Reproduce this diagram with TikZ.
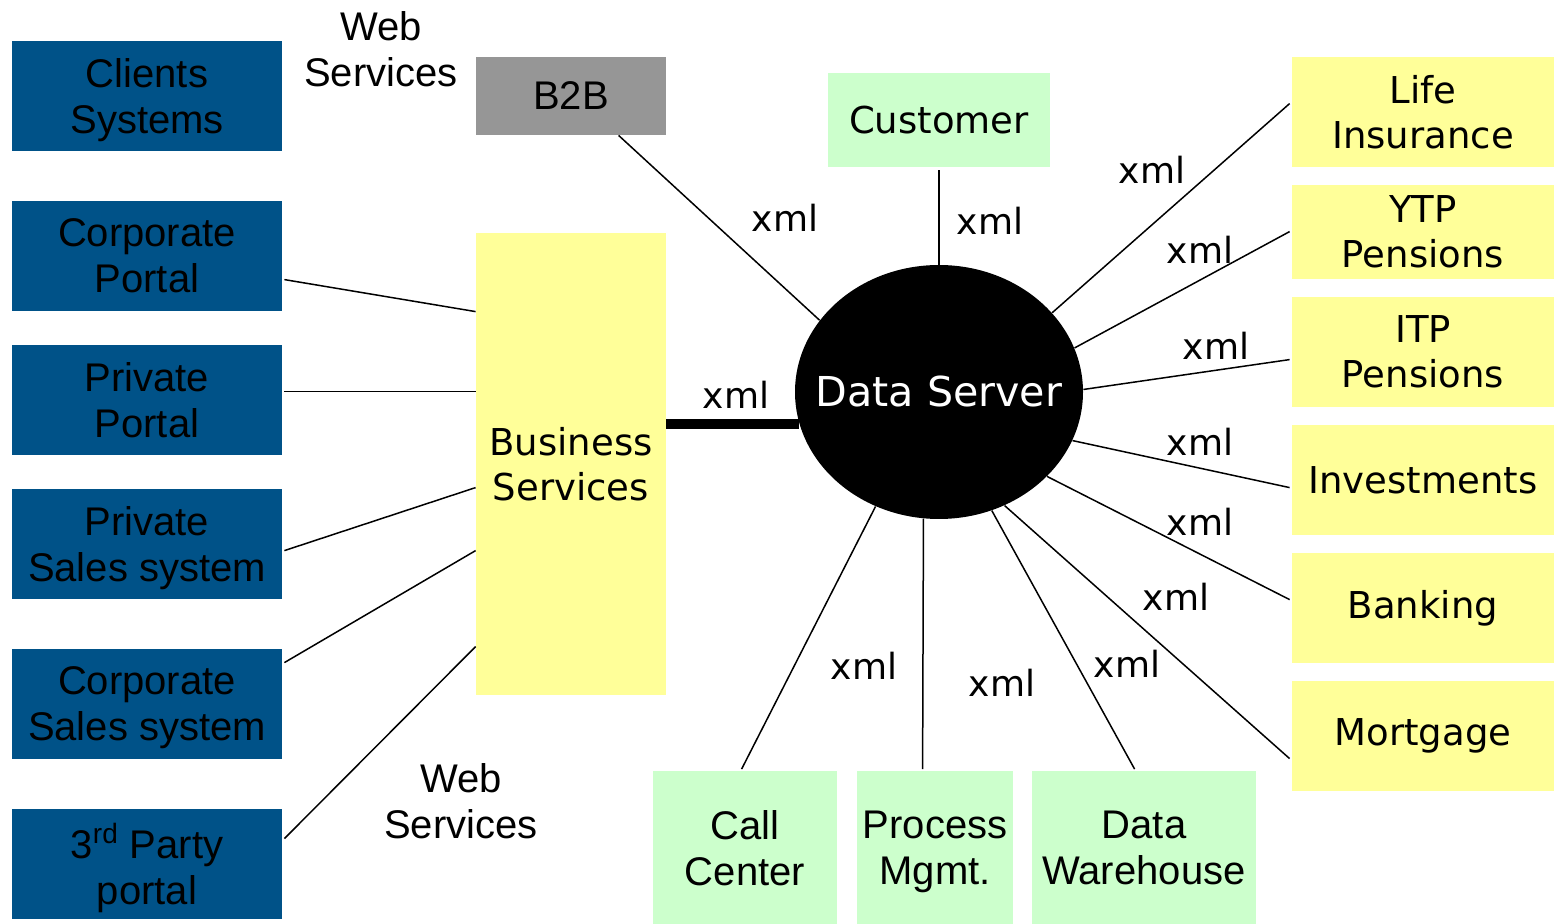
\documentclass[tikz,border=0pt]{standalone}
\usepackage{fontspec}
\setmainfont{DejaVu Sans}
\newfontfamily\narrowf{Liberation Sans}
\usetikzlibrary{shapes.geometric,calc}
\definecolor{boxblue}{HTML}{005288}
\definecolor{boxyellow}{HTML}{FFFF99}
\definecolor{boxgreen}{HTML}{CCFFCC}
\definecolor{boxgray}{HTML}{969696}
\begin{document}
\begin{tikzpicture}[x=0.5pt,y=-0.5pt,
  base/.style={inner sep=0pt, align=center},
  nfont/.style={font=\narrowf\fontsize{20}{23}\selectfont, text depth=0pt},
  vfont/.style={font=\fontsize{18.5}{22.5}\selectfont},
  bluebox/.style={base, nfont, fill=boxblue, minimum width=135pt, minimum height=55pt},
  ybox/.style={base, vfont, fill=boxyellow, minimum width=131pt},
  gbox/.style={base, nfont, fill=boxgreen, minimum height=76.5pt},
  lbl/.style={base, font=\fontsize{18}{22}\selectfont},
  ntxt/.style={base, nfont},
  conn/.style={draw=black, line width=0.75pt},
]
\useasboundingbox (0,0) rectangle (1554,924);
% left blue boxes
\node[bluebox] (cs) at (147,96) {Clients\\Systems};
\node[bluebox] (cp) at (147,256) {Corporate\\Portal};
\node[bluebox] (pp) at (147,400) {Private\\Portal};
\node[bluebox] (ps) at (147,544) {Private\\Sales system};
\node[bluebox] (css) at (147,704) {Corporate\\Sales system};
\node[bluebox] (tp) at (147,864) {3\textsuperscript{rd} Party\\portal};
% middle
\node[base, nfont, fill=boxgray, minimum width=95pt, minimum height=39pt] (b2b) at (571,96) {B2B};
\node[base, vfont, fill=boxyellow, minimum width=95pt, minimum height=231pt] (bs) at (571,464) {Business\\Services};
\node[base, vfont, fill=boxgreen, minimum width=111pt, minimum height=47pt] (cu) at (939,120) {Customer};
\node[ntxt] (ws1) at (381,49) {Web\\Services};
\node[ntxt] (ws2) at (461,801) {Web\\Services};
% data server
\node[ellipse, fill=black, minimum width=144pt, minimum height=127pt, inner sep=0pt] (ds) at (939,392) {};
\node[base, text=white, font=\fontsize{20.6}{24}\selectfont] (dst) at (ds.center) {Data Server};
% right boxes
\node[ybox, minimum height=55pt] (li) at (1423,112) {Life\\Insurance};
\node[ybox, minimum height=47pt] (ytp) at (1423,232) {YTP\\Pensions};
\node[ybox, minimum height=55pt] (itp) at (1423,352) {ITP\\Pensions};
\node[ybox, minimum height=55pt] (inv) at (1423,480) {Investments};
\node[ybox, minimum height=55pt] (bank) at (1423,608) {Banking};
\node[ybox, minimum height=55pt] (mort) at (1423,736) {Mortgage};
% bottom boxes
\node[gbox, minimum width=92pt] (cc) at (745,848) {Call\\Center};
\node[gbox, minimum width=78pt] (pm) at (935,848) {Process\\Mgmt.};
\node[gbox, minimum width=112pt] (dw) at (1144,848) {Data\\Warehouse};
% left connectors
\draw[conn] ($(cp.north east)+(2,79)$) -- ($(bs.north west)+(0,79)$);
\draw[conn] ($(pp.north east)+(2,47)$) -- ($(bs.north west)+(0,159)$);
\draw[conn] ($(ps.north east)+(2,62)$) -- ($(bs.north west)+(0,255)$);
\draw[conn] ($(css.north east)+(2,14)$) -- ($(bs.north west)+(0,318)$);
\draw[conn] ($(tp.north east)+(2,30)$) -- ($(bs.north west)+(0,414)$);
% thick
\draw[line width=5pt] (ds.193 -| bs.east) -- (ds.193);
% data server connectors
\draw[conn] ($(b2b.south west)+(143,0)$) -- (ds.149);
\draw[conn] ($(cu.south)+(0,3)$) -- (ds.north);
\draw[conn] ($(li.north west)+(-2,47)$) -- (ds.35);
\draw[conn] ($(ytp.north west)+(-2,47)$) -- (ds.18);
\draw[conn] ($(itp.north west)+(-2,63)$) -- (ds.1);
\draw[conn] ($(inv.north west)+(-2,63)$) -- (ds.-20);
\draw[conn] ($(bank.north west)+(-2,47)$) -- (ds.-38.5);
\draw[conn] ($(mort.north west)+(-2,78)$) -- (ds.-60);
\draw[conn] ($(cc.north west)+(89,-2)$) -- (ds.-119.6);
\draw[conn] ($(pm.north west)+(66,-2)$) -- (ds.-97);
\draw[conn] ($(dw.north west)+(103,-2)$) -- (ds.-66.2);
% xml labels
\node[lbl] (x1) at (785,218) {xml};
\node[lbl] (x2) at (990,221) {xml};
\node[lbl] (x3) at (1152,170) {xml};
\node[lbl] (x4) at (1200,250) {xml};
\node[lbl] (x5) at (1216,346) {xml};
\node[lbl] (x6) at (1200,442) {xml};
\node[lbl] (x7) at (1200,522) {xml};
\node[lbl] (x8) at (1176,597) {xml};
\node[lbl] (x9) at (1127,664) {xml};
\node[lbl] (x10) at (1002,683) {xml};
\node[lbl] (x11) at (864,666) {xml};
\node[lbl] (x12) at (736,395) {xml};
\end{tikzpicture}
\end{document}
